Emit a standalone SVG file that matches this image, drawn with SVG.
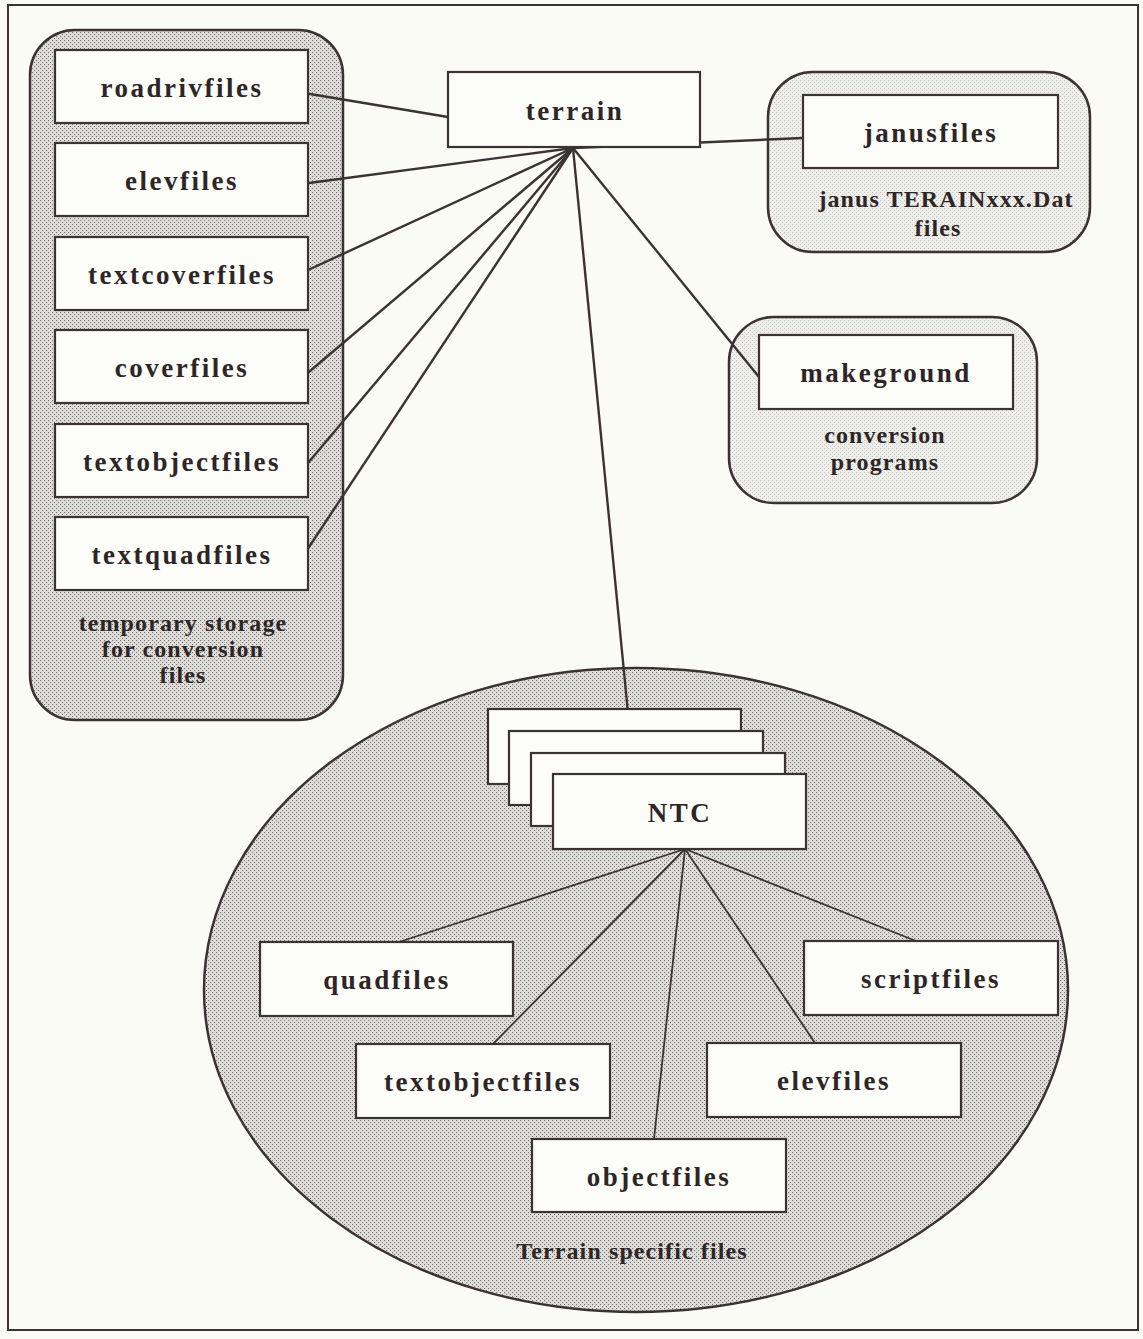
<svg xmlns="http://www.w3.org/2000/svg" width="1143" height="1339" viewBox="0 0 1143 1339">
<defs>
<pattern id="dots" width="4" height="4" patternUnits="userSpaceOnUse">
<rect width="4" height="4" fill="#dedcd8"/>
<rect x="0" y="0" width="1" height="1" fill="#6e6a68"/>
<rect x="2" y="2" width="1" height="1" fill="#6e6a68"/>
</pattern>
<pattern id="lightdots" width="4" height="4" patternUnits="userSpaceOnUse">
<rect width="4" height="4" fill="#eeeeea"/>
<rect x="0" y="0" width="1" height="1" fill="#c4c2be"/>
<rect x="2" y="2" width="1" height="1" fill="#c4c2be"/>
</pattern>
<style>
.box{fill:#fcfcf8;stroke:#3b3333;stroke-width:2.2}
.cont{fill:url(#dots);stroke:#3b3333;stroke-width:2.5}
.lcont{fill:url(#lightdots);stroke:#3b3333;stroke-width:2.5}
.lbl{font-family:"Liberation Serif","Times New Roman",serif;font-weight:bold;font-size:27px;letter-spacing:2.5px;fill:#2e2626;text-anchor:middle}
.sm{font-family:"Liberation Serif","Times New Roman",serif;font-weight:bold;font-size:24px;letter-spacing:1.1px;fill:#2e2626;text-anchor:middle}
.ln{stroke:#3b3333;stroke-width:2.4;fill:none}
.ln2{stroke:#3b3333;stroke-width:1.8;fill:none}
</style>
</defs>
<rect x="0" y="0" width="1143" height="1339" fill="#fbfbf5"/>
<rect x="8" y="5" width="1130" height="1325" fill="none" stroke="#3b3333" stroke-width="2"/>

<g id="temporary-storage">
<rect class="cont" x="30" y="30" width="313" height="690" rx="45" ry="45"/>
<text class="sm" x="183" y="631">temporary storage</text>
<text class="sm" x="183" y="657">for conversion</text>
<text class="sm" x="183" y="683">files</text>
</g>
<g id="janus-container">
<rect class="lcont" x="768" y="72" width="322" height="180" rx="45" ry="45"/>
<text class="sm" x="946" y="207">janus TERAINxxx.Dat</text>
<text class="sm" x="938" y="236">files</text>
</g>
<g id="conversion-container">
<rect class="lcont" x="729" y="317" width="308" height="186" rx="45" ry="45"/>
<text class="sm" x="885" y="443">conversion</text>
<text class="sm" x="885" y="470">programs</text>
</g>
<g id="terrain-specific">
<ellipse class="cont" cx="636" cy="990" rx="432" ry="322"/>
<text class="sm" x="632" y="1259">Terrain specific files</text>
</g>

<g id="connectors">
<line class="ln" x1="304" y1="93" x2="448" y2="117"/>
<line class="ln" x1="309" y1="183" x2="573" y2="148"/>
<line class="ln" x1="308" y1="270" x2="573" y2="148"/>
<line class="ln" x1="303" y1="377" x2="573" y2="148"/>
<line class="ln" x1="308" y1="463" x2="573" y2="148"/>
<line class="ln" x1="307" y1="550" x2="573" y2="148"/>
<line class="ln" x1="573" y1="148" x2="803" y2="138"/>
<line class="ln" x1="573" y1="148" x2="759" y2="377"/>
<line class="ln" x1="573" y1="148" x2="628" y2="713"/>
<line class="ln2" x1="685" y1="849" x2="396" y2="943"/>
<line class="ln2" x1="685" y1="849" x2="493" y2="1044"/>
<line class="ln2" x1="685" y1="849" x2="654" y2="1139"/>
<line class="ln2" x1="685" y1="849" x2="815" y2="1043"/>
<line class="ln2" x1="685" y1="849" x2="916" y2="941"/>
</g>

<g id="roadrivfiles"><rect class="box" x="55" y="50" width="253" height="73"/><text class="lbl" x="182" y="97">roadrivfiles</text></g>
<g id="elevfiles-tmp"><rect class="box" x="55" y="143" width="253" height="73"/><text class="lbl" x="182" y="190">elevfiles</text></g>
<g id="textcoverfiles"><rect class="box" x="55" y="237" width="253" height="73"/><text class="lbl" x="182" y="284">textcoverfiles</text></g>
<g id="coverfiles"><rect class="box" x="55" y="330" width="253" height="73"/><text class="lbl" x="182" y="377">coverfiles</text></g>
<g id="textobjectfiles-tmp"><rect class="box" x="55" y="424" width="253" height="73"/><text class="lbl" x="182" y="471">textobjectfiles</text></g>
<g id="textquadfiles"><rect class="box" x="55" y="517" width="253" height="73"/><text class="lbl" x="182" y="564">textquadfiles</text></g>

<g id="terrain"><rect class="box" x="448" y="72" width="252" height="75"/><text class="lbl" x="575" y="120">terrain</text></g>
<g id="janusfiles"><rect class="box" x="803" y="95" width="255" height="73"/><text class="lbl" x="931" y="142">janusfiles</text></g>
<g id="makeground"><rect class="box" x="759" y="335" width="254" height="74"/><text class="lbl" x="886" y="382">makeground</text></g>

<g id="ntc">
<rect class="box" x="488" y="709" width="253" height="75"/>
<rect class="box" x="509" y="731" width="254" height="74"/>
<rect class="box" x="531" y="753" width="254" height="73"/>
<rect class="box" x="553" y="774" width="253" height="75"/>
<text class="lbl" x="680" y="822">NTC</text>
</g>

<g id="quadfiles"><rect class="box" x="260" y="942" width="253" height="74"/><text class="lbl" x="387" y="989">quadfiles</text></g>
<g id="scriptfiles"><rect class="box" x="804" y="941" width="254" height="74"/><text class="lbl" x="931" y="988">scriptfiles</text></g>
<g id="textobjectfiles"><rect class="box" x="356" y="1044" width="254" height="74"/><text class="lbl" x="483" y="1091">textobjectfiles</text></g>
<g id="elevfiles"><rect class="box" x="707" y="1043" width="254" height="74"/><text class="lbl" x="834" y="1090">elevfiles</text></g>
<g id="objectfiles"><rect class="box" x="532" y="1139" width="254" height="73"/><text class="lbl" x="659" y="1186">objectfiles</text></g>
</svg>
